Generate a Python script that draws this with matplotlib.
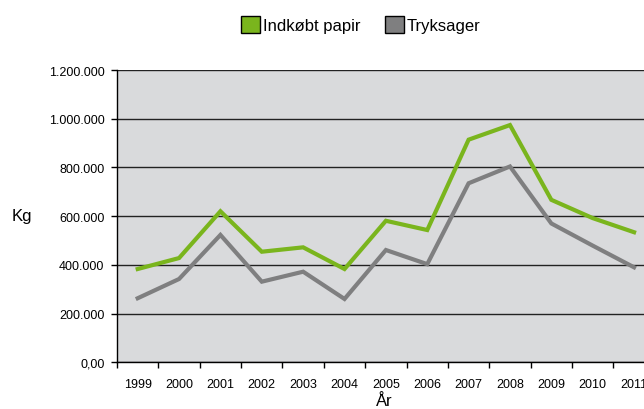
import matplotlib
matplotlib.use("Agg")
import matplotlib.pyplot as plt
from matplotlib.patches import Patch
import numpy as np

plt.rcParams['font.family'] = ['Liberation Sans', 'DejaVu Sans']

#### data ####
years = ['1999', '2000', '2001', '2002', '2003', '2004', '2005',
         '2006', '2007', '2008', '2009', '2010', '2011']
papir = [383000, 428000, 620000, 454000, 472000, 383000, 581000,
         543000, 914000, 974000, 667000, 592000, 534000]
tryk = [263000, 342000, 523000, 331000, 372000, 260000, 461000,
        403000, 735000, 804000, 570000, 479000, 390000]
yticks = [0, 200000, 400000, 600000, 800000, 1000000, 1200000]
ylabels = ['0,00', '200.000', '400.000', '600.000', '800.000',
           '1.000.000', '1.200.000']

green = '#7ab51d'
grey = '#7f7f80'

#### plot ####
fig = plt.figure(figsize=(6.44, 4.10), dpi=100)
ax = fig.add_axes([0.1817, 0.1139, 0.835, 0.7129])
ax.set_facecolor('#d9dadc')

x = np.arange(len(years))
ax.plot(x, papir, color=green, lw=3, solid_joinstyle='miter', zorder=3)
ax.plot(x, tryk, color=grey, lw=3, solid_joinstyle='miter', zorder=3)

ax.set_xlim(-0.5, len(years) - 0.5)
ax.set_ylim(0, 1200000)
ax.set_yticks(yticks)
ax.set_yticklabels(ylabels, fontsize=9)
ax.set_xticks(x)
ax.set_xticklabels(years, fontsize=9)
ax.tick_params(axis='x', length=0, pad=11)
ax.set_xticks(np.arange(len(years) + 1) - 0.5, minor=True)
ax.tick_params(axis='x', which='minor', length=4, width=1, direction='out')
ax.tick_params(axis='y', length=4, width=1, direction='out', pad=5)
ax.grid(axis='y', color='#222222', lw=1)
ax.set_axisbelow(True)

for s in ['top', 'right']:
    ax.spines[s].set_visible(False)
ax.spines['left'].set_linewidth(1)
ax.spines['bottom'].set_linewidth(1)

fig.text(0.034, 0.471, 'Kg', fontsize=12, ha='center', va='center')
fig.text(0.596, 0.02, 'År', fontsize=12, ha='center', va='center')

handles = [Patch(facecolor=green, edgecolor='black', lw=1),
           Patch(facecolor=grey, edgecolor='black', lw=1)]
fig.legend(handles, ['Indkøbt papir', 'Tryksager'], loc='center',
           bbox_to_anchor=(0.56, 0.938), ncol=2, frameon=False,
           fontsize=12, handlelength=1.15, handleheight=1.15,
           handletextpad=0.15, columnspacing=1.5)

plt.savefig('out.png', dpi=100)
